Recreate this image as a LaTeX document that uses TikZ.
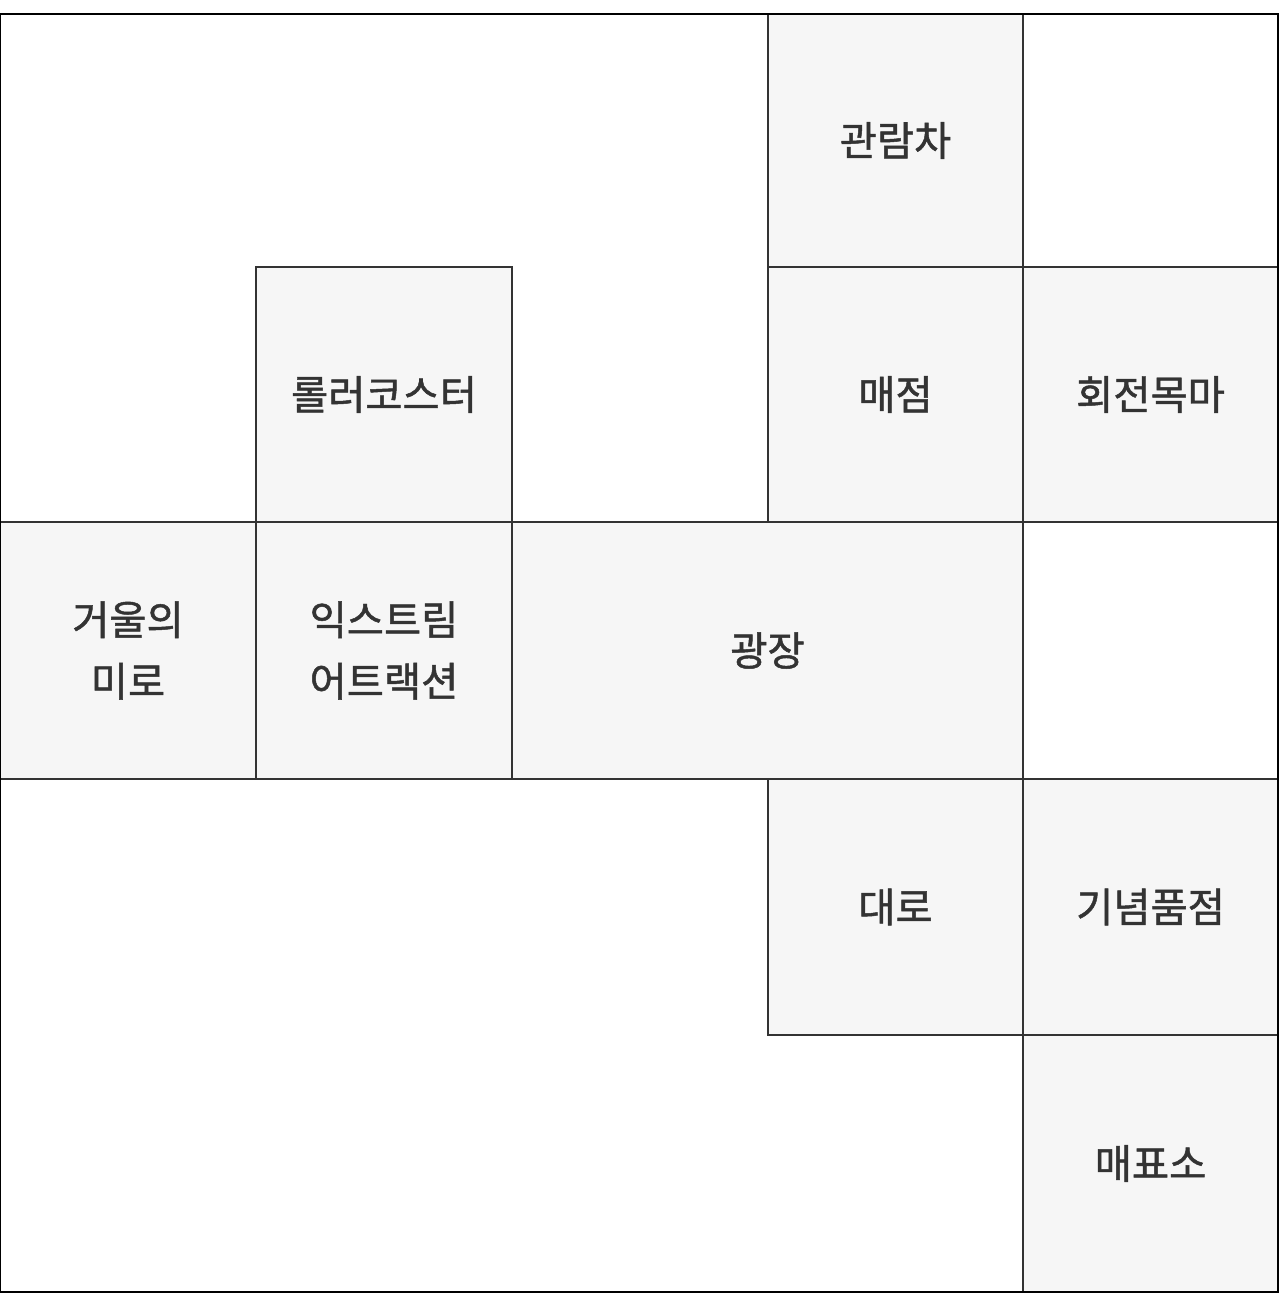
\documentclass[tikz,border=0pt]{standalone}
\usepackage{fontspec}
\newfontfamily\kr[FakeBold=1.2]{Noto Sans CJK KR}
\definecolor{cellfill}{HTML}{F6F6F6}
\definecolor{ink}{HTML}{333333}
\tikzset{
  cell/.style={draw=ink, line width=1.4pt, fill=cellfill, inner sep=0pt, outer sep=0pt,
    text=ink, align=center, font=\kr\fontsize{23}{35}\selectfont},
}
\begin{document}
\begin{tikzpicture}[x=0.02cm, y=-0.02cm]
\useasboundingbox (0,0) rectangle (1280,1294);
\fill[white] (0,0) rectangle (1280,1294);
% cells
\node[cell, minimum width=5.1cm, minimum height=5.06cm] (gwanramcha) at (895.5,140.5) {관람차};
\node[cell, minimum width=5.12cm, minimum height=5.1cm] (roller) at (384,394.5) {롤러코스터};
\node[cell, minimum width=5.1cm, minimum height=5.1cm] (maejeom) at (895.5,394.5) {매점};
\node[cell, minimum width=5.1cm, minimum height=5.1cm] (hoejeon) at (1150.5,394.5) {회전목마};
\node[cell, minimum width=5.12cm, minimum height=5.14cm] (mirror) at (128,650.5) {거울의\\미로};
\node[cell, minimum width=5.12cm, minimum height=5.14cm] (extreme) at (384,650.5) {익스트림\\어트랙션};
\node[cell, minimum width=10.22cm, minimum height=5.14cm] (plaza) at (767.5,650.5) {광장};
\node[cell, minimum width=5.1cm, minimum height=5.12cm] (daero) at (895.5,907) {대로};
\node[cell, minimum width=5.1cm, minimum height=5.12cm] (ginyeom) at (1150.5,907) {기념품점};
\node[cell, minimum width=5.1cm, minimum height=5.14cm] (maepyo) at (1150.5,1163.5) {매표소};
% outer border
\draw[black, line width=1.6pt] (0,14) rectangle (1278,1292);
\end{tikzpicture}
\end{document}
